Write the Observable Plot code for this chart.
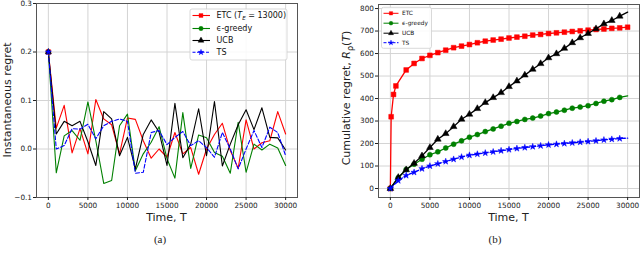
<!DOCTYPE html>
<html><head><meta charset="utf-8">
<script src="https://cdn.jsdelivr.net/npm/d3@7"></script>
<script src="https://cdn.jsdelivr.net/npm/@observablehq/plot@0.6"></script>
<style>
body{margin:0;background:#fff;}
#root{position:relative;width:640px;height:263px;overflow:hidden;font-family:"DejaVu Sans";}
.panel{position:absolute;top:0;}
.lbl{position:absolute;font-family:"DejaVu Sans";font-size:11px;color:#222;white-space:nowrap;transform:translate(-50%,-50%);line-height:1;}
.rot{transform:translate(-50%,-50%) rotate(-90deg);}
.cap{position:absolute;font-family:"Liberation Serif";font-size:11px;color:#222;transform:translate(-50%,-50%);line-height:1;}
#ov{position:absolute;left:0;top:0;pointer-events:none;}
</style></head><body><div id="root"></div>
<script>
// ---- data ----
const T = [0,1000,2000,3000,4000,5000,6000,7000,8000,9000,10000,11000,12000,13000,14000,15000,16000,17000,18000,19000,20000,21000,22000,23000,24000,25000,26000,27000,28000,29000,30000];
const etcInst = [0.2,0.043,0.09,-0.008,0.042,-0.01,0.102,0.062,0.05,-0.01,0.064,0.061,0.017,-0.019,0.0,-0.017,0.034,-0.01,0.003,-0.052,0.0,0.03,0.053,-0.003,-0.04,0.06,0.0,0.013,0.017,0.077,0.031];
const greedyInst = [0.2,-0.049,0.027,0.038,0.018,0.097,0.017,-0.071,-0.065,0.048,0.072,-0.045,-0.01,0.014,0.046,-0.02,-0.06,0.075,-0.04,0.029,0.023,-0.007,-0.015,-0.05,0.055,-0.048,0.01,-0.002,0.01,0.002,-0.034];
const ucbInst = [0.2,0.031,0.057,0.048,0.057,0.015,-0.034,0.077,0.062,-0.014,0.024,-0.041,0.03,0.06,0.035,-0.034,0.094,-0.018,0.01,0.083,-0.014,0.098,-0.035,0.01,0.05,0.081,0.04,0.085,0.024,0.023,-0.002];
const tsInst = [0.2,0.0,0.007,0.042,0.041,0.051,0.021,0.048,0.057,0.062,0.057,-0.05,-0.048,0.034,0.038,0.009,0.024,0.036,0.007,0.017,0.003,-0.017,0.034,0.0,-0.041,0.0,0.038,0.003,0.045,0.034,-0.014];

const etcT = [0,100,400,700,2000,3000,4000,5000,6000,7000,8000,9000,10000,11000,12000,13000,14000,15000,16000,17000,18000,19000,20000,21000,22000,23000,24000,25000,26000,27000,28000,29000,30000];
const etcCum = [0,319,418,456,527,556,578,592,604,615,626,633,640,648,655,660,664,669,673,677,682,685,689,692,695,698,701,704,707,709,712,714,717];
const greedyCum = [0,48,85,108,130,150,163,180,197,212,228,240,253,265,277,290,298,307,313,322,333,340,348,357,362,368,378,388,395,405,412];
const ucbCum = [0,49,83,112,145,182,219,244,275,308,330,355,382,404,426,453,478,504,530,555,581,599,623,648,670,689,710,732,747,766,784];
const tsCum = [0,35,58,72,88,100,110,120,130,140,148,153,158,163,168,173,178,182,186,190,194,197,200,203,206,209,212,216,219,222,224];

const xTicks = [0,5000,10000,15000,20000,25000,30000];
const yTicksA = [-0.1,0,0.1,0.2,0.3];
const yTicksB = [0,100,200,300,400,500,600,700,800];
const namesA = ["ETC", "\u03f5-greedy", "UCB", "TS"];

// ---- helpers ----
const tbl = (xs, ys) => xs.map((x,i) => ({x, y: ys[i]}));
const fmtA = d => (d < 0 ? "\u2212" : "") + Math.abs(d).toFixed(1);
const styleBase = {fontFamily:"DejaVu Sans", fontSize:"7.3px", color:"#222", background:"transparent", overflow:"visible"};
const GRID = "#d4d4d4", FRAME = "#555";

const root = document.getElementById("root");

// ---- panel (a) ----
const sA = [
  {d: tbl(T, etcInst), c: "#ff0000", sym: "square", r: 2.6},
  {d: tbl(T, greedyInst), c: "#008000", sym: "circle", r: 2.2},
  {d: tbl(T, ucbInst), c: "#000000", sym: "triangle", r: 2.3},
  {d: tbl(T, tsInst), c: "#0000ff", sym: "star", r: 1.9, dash: "4,2"}
];
const marksA = [
  Plot.gridX({ticks: xTicks, stroke: GRID, strokeOpacity: 1}),
  Plot.gridY({ticks: yTicksA, stroke: GRID, strokeOpacity: 1})
];
for (const s of sA) {
  marksA.push(Plot.line(s.d, {x: "x", y: "y", stroke: s.c, strokeWidth: 1.1, strokeDasharray: s.dash}));
}
for (const s of sA) {
  marksA.push(Plot.dot(s.d.slice(0,1), {x: "x", y: "y", symbol: s.sym, r: s.r, fill: s.c, stroke: s.c, strokeWidth: 0.5}));
}
marksA.push(
  Plot.frame({stroke: FRAME, strokeWidth: 1}),
  Plot.axisX({ticks: xTicks, tickFormat: d => String(d), tickSize: 3, tickPadding: 2, label: null}),
  Plot.axisY({ticks: yTicksA, tickFormat: fmtA, tickSize: 3, tickPadding: 1.5, label: null})
);
const pA = Plot.plot({
  width: 320, height: 226,
  marginLeft: 36, marginRight: 23, marginTop: 3, marginBottom: 29,
  style: styleBase,
  x: {domain: [-1500, 31500]},
  y: {domain: [-0.1, 0.3]},
  marks: marksA
});
pA.classList.add("panel"); pA.style.left = "0px";
root.appendChild(pA);

// ---- panel (b) ----
const sB = [
  {d: tbl(etcT, etcCum), c: "#ff0000", sym: "square", r: 2.7, markAll: true},
  {d: tbl(T, greedyCum), c: "#008000", sym: "circle", r: 2.5},
  {d: tbl(T, ucbCum), c: "#000000", sym: "triangle", r: 2.5},
  {d: tbl(T, tsCum), c: "#0000ff", sym: "star", r: 2.0, dash: "4,2"}
];
const marksB = [
  Plot.gridX({ticks: xTicks, stroke: GRID, strokeOpacity: 1}),
  Plot.gridY({ticks: yTicksB, stroke: GRID, strokeOpacity: 1})
];
for (const s of sB) {
  marksB.push(Plot.line(s.d, {x: "x", y: "y", stroke: s.c, strokeWidth: 1.3, strokeDasharray: s.dash}));
  const pts = s.markAll ? s.d : s.d.slice(0, s.d.length - 1);
  marksB.push(Plot.dot(pts, {x: "x", y: "y", symbol: s.sym, r: s.r, fill: s.c, stroke: s.c, strokeWidth: 0.5}));
}
marksB.push(
  Plot.frame({stroke: FRAME, strokeWidth: 1}),
  Plot.axisX({ticks: xTicks, tickFormat: d => String(d), tickSize: 3, tickPadding: 2, label: null}),
  Plot.axisY({ticks: yTicksB, tickFormat: d => String(d), tickSize: 3, tickPadding: 1.5, label: null})
);
const pB = Plot.plot({
  width: 320, height: 226,
  marginLeft: 58, marginRight: 1, marginTop: 4, marginBottom: 29,
  style: styleBase,
  x: {domain: [-1500, 31500]},
  y: {domain: [-40, 818]},
  marks: marksB
});
pB.classList.add("panel"); pB.style.left = "320px";
root.appendChild(pB);

// ---- axis labels & captions ----
function addDiv(cls, html, x, y) {
  const el = document.createElement("div");
  el.className = cls; el.innerHTML = html;
  el.style.left = x + "px"; el.style.top = y + "px";
  root.appendChild(el);
}
addDiv("lbl", "Time, T", 166.5, 217);
addDiv("lbl", "Time, T", 508.5, 217);
addDiv("lbl rot", "Instantaneous regret", 7, 100);
addDiv("lbl rot", "Cumulative regret, <i>R</i><sub style='font-size:8px'>\u03c1</sub>(<i>T</i>)", 348, 98);
addDiv("cap", "(a)", 160, 239);
addDiv("cap", "(b)", 495, 239);

// ---- legends ----
const ov = d3.select(root).append("svg").attr("id", "ov").attr("width", 640).attr("height", 263);
const symMap = {square: d3.symbolSquare, circle: d3.symbolCircle, triangle: d3.symbolTriangle, star: d3.symbolStar};
function legend(cfg) {
  const g = ov.append("g");
  g.append("rect").attr("x", cfg.x0).attr("y", cfg.y0).attr("width", cfg.w).attr("height", cfg.h)
    .attr("rx", 2).attr("fill", "#fff").attr("fill-opacity", 0.85).attr("stroke", "#cfcfcf").attr("stroke-width", 0.8);
  cfg.items.forEach((it, i) => {
    const y = cfg.ys[i];
    g.append("line").attr("x1", cfg.lx1).attr("x2", cfg.lx2).attr("y1", y).attr("y2", y)
      .attr("stroke", it.c).attr("stroke-width", cfg.sw).attr("stroke-dasharray", it.dash || null);
    g.append("path").attr("transform", `translate(${cfg.mx},${y})`)
      .attr("d", d3.symbol().type(symMap[it.sym]).size(Math.PI * cfg.r * cfg.r * (it.k || 1))())
      .attr("fill", it.c).attr("stroke", it.c).attr("stroke-width", 0.4);
    const t = g.append("text").attr("x", cfg.tx).attr("y", y).attr("dy", "0.35em")
      .attr("font-family", "DejaVu Sans").attr("font-size", cfg.fs).attr("fill", "#111");
    for (const seg of it.label) {
      const sp = t.append("tspan").text(seg.t);
      if (seg.i) sp.attr("font-style", "italic");
      if (seg.sub) sp.attr("font-size", cfg.fs * 0.7).attr("dy", "0.25em");
      if (seg.back) sp.attr("dy", "-0.18em");
    }
  });
}
legend({
  x0: 190, y0: 9, w: 97, h: 51, lx1: 192.5, lx2: 210, mx: 201, tx: 216.5,
  ys: [15.5, 28.5, 40.5, 52.3], fs: 8, sw: 1.1, r: 2.2,
  items: [
    {c: "#ff0000", sym: "square", label: [{t: namesA[0] + " ("}, {t: "T", i: true}, {t: "E", i: true, sub: true}, {t: " = 13000)", back: true}]},
    {c: "#008000", sym: "circle", label: [{t: namesA[1]}]},
    {c: "#000000", sym: "triangle", label: [{t: namesA[2]}]},
    {c: "#0000ff", sym: "star", k: 0.7, dash: "3,1.5", label: [{t: namesA[3]}]}
  ]
});
legend({
  x0: 381.5, y0: 7.3, w: 50, h: 41, lx1: 383.5, lx2: 398.5, mx: 391, tx: 402, 
  ys: [13.3, 23.2, 33.2, 42.7], fs: 5.8, sw: 1, r: 1.9,
  items: [
    {c: "#ff0000", sym: "square", label: [{t: namesA[0]}]},
    {c: "#008000", sym: "circle", label: [{t: namesA[1]}]},
    {c: "#000000", sym: "triangle", label: [{t: namesA[2]}]},
    {c: "#0000ff", sym: "star", k: 0.7, dash: "3,1.5", label: [{t: namesA[3]}]}
  ]
});
</script>
</body></html>
